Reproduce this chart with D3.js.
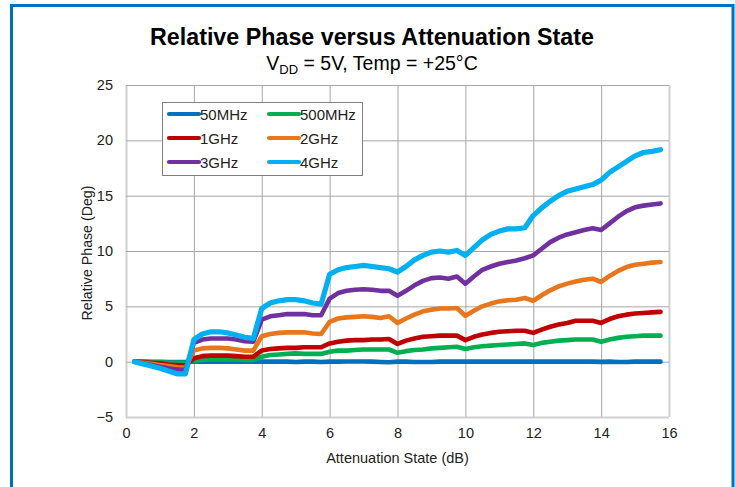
<!DOCTYPE html>
<html><head><meta charset="utf-8">
<script src="https://cdn.jsdelivr.net/npm/d3@7"></script>
<style>body{margin:0;background:#fff;} svg{display:block;font-family:"Liberation Sans",Arial,sans-serif;}</style>
</head><body>
<svg id="c" width="735" height="487"></svg>
<script>
// ---- data ----
const xStates = d3.range(1, 64).map(i => i * 0.25); // 0.25 .. 15.75 dB
const seriesNames = ["50MHz", "500MHz", "1GHz", "2GHz", "3GHz", "4GHz"];
const seriesColors = ["#0070C0", "#00B050", "#C00000", "#E8761C", "#7030A0", "#00B0F0"];
const v50M = [0,0,-0.02,-0.02,-0.03,-0.03,-0.03,0,0,0,0,0,0,0,0,0,0,0,0,-0.03,0,0,-0.03,0,0,0.02,0.02,0.02,0,-0.03,-0.05,0,0,-0.03,-0.03,-0.03,0,0,0,0,0,0,0,0,0,0.02,0,0,0,0,0,0,0,0,0,-0.02,0,-0.03,-0.03,0,0,0,0];
const v500M = [0,0,-0.05,-0.05,-0.1,-0.1,-0.1,0.1,0.15,0.2,0.2,0.2,0.2,0.15,0.15,0.45,0.6,0.65,0.7,0.75,0.7,0.7,0.7,0.9,1.0,1.0,1.05,1.1,1.1,1.1,1.1,0.8,0.95,1.05,1.1,1.2,1.25,1.3,1.35,1.15,1.3,1.4,1.45,1.5,1.55,1.6,1.65,1.5,1.7,1.8,1.9,1.95,2.0,2.0,2.0,1.8,2.0,2.15,2.25,2.3,2.35,2.35,2.35];
const v1G = [0,-0.05,-0.1,-0.15,-0.25,-0.3,-0.35,0.3,0.5,0.55,0.55,0.55,0.5,0.45,0.45,1.0,1.15,1.2,1.25,1.25,1.3,1.3,1.3,1.65,1.8,1.9,1.95,1.95,2.0,2.0,2.05,1.6,1.9,2.1,2.25,2.3,2.35,2.35,2.35,1.95,2.25,2.45,2.6,2.7,2.75,2.8,2.8,2.6,2.9,3.15,3.35,3.5,3.7,3.7,3.7,3.5,3.85,4.1,4.25,4.35,4.4,4.45,4.5];
const v2G = [0,-0.1,-0.2,-0.3,-0.4,-0.5,-0.55,1.0,1.2,1.25,1.25,1.2,1.1,1.0,1.0,2.3,2.5,2.6,2.65,2.65,2.65,2.55,2.5,3.6,3.9,4.0,4.05,4.1,4.05,3.95,4.1,3.5,3.9,4.25,4.55,4.7,4.8,4.8,4.85,4.15,4.6,5.0,5.25,5.45,5.55,5.6,5.75,5.5,6.0,6.45,6.8,7.05,7.25,7.4,7.5,7.2,7.75,8.2,8.55,8.75,8.85,8.95,9.0];
const v3G = [0,-0.15,-0.3,-0.45,-0.6,-0.7,-0.75,1.7,2.0,2.1,2.1,2.1,2.0,1.85,1.8,3.8,4.1,4.2,4.3,4.3,4.3,4.2,4.2,5.7,6.2,6.4,6.5,6.55,6.5,6.4,6.4,5.95,6.4,6.9,7.3,7.55,7.6,7.5,7.7,7.05,7.7,8.3,8.6,8.85,9.0,9.15,9.35,9.6,10.2,10.8,11.2,11.5,11.7,11.9,12.05,11.9,12.5,13.1,13.6,13.95,14.1,14.2,14.3];
const v4G = [0,-0.2,-0.4,-0.6,-0.85,-1.1,-1.1,2.0,2.5,2.7,2.7,2.6,2.4,2.2,2.1,4.8,5.3,5.5,5.6,5.6,5.5,5.3,5.2,7.9,8.3,8.5,8.6,8.7,8.6,8.5,8.4,8.1,8.6,9.2,9.6,9.9,10.0,9.9,10.05,9.6,10.3,11.0,11.5,11.8,12.0,12.0,12.1,13.2,13.9,14.5,15.0,15.4,15.6,15.8,16.0,16.4,17.1,17.6,18.1,18.6,18.9,19.0,19.15];
const seriesValues = [v50M, v500M, v1G, v2G, v3G, v4G];
const xTicks = [0, 2, 4, 6, 8, 10, 12, 14, 16];
const yTicks = [-5, 0, 5, 10, 15, 20, 25];

// ---- layout ----
const svg = d3.select("#c");
const L = 126, R = 669, T = 85, B = 417;
const x = d3.scaleLinear().domain([0, 16]).range([L, R]);
const y = d3.scaleLinear().domain([-5, 25]).range([B, T]);

// outer frame
svg.append("rect").attr("x", 11.5).attr("y", 5.5).attr("width", 721.5).attr("height", 520)
  .attr("fill", "none").attr("stroke", "#0070C0").attr("stroke-width", 3);

// title
svg.append("text").attr("x", 372).attr("y", 45).attr("text-anchor", "middle")
  .attr("font-size", 23).attr("font-weight", "bold").attr("fill", "#000")
  .attr("textLength", 444).attr("lengthAdjust", "spacingAndGlyphs")
  .text("Relative Phase versus Attenuation State");
const sub = svg.append("text").attr("x", 372).attr("y", 70).attr("text-anchor", "middle")
  .attr("font-size", 19.5).attr("fill", "#000");
sub.append("tspan").text("V");
sub.append("tspan").attr("font-size", 13).attr("dy", 4).text("DD");
sub.append("tspan").attr("dy", -4).text(" = 5V, Temp = +25°C");

// grid
const g = svg.append("g");
g.selectAll(".vg").data(xTicks).join("line")
  .attr("x1", d => x(d) + 0.5).attr("x2", d => x(d) + 0.5).attr("y1", T).attr("y2", B)
  .attr("stroke", d => (d === 0 || d === 16) ? "#D0D0D0" : "#A6A6A6")
  .attr("stroke-width", d => (d === 0 || d === 16) ? 2 : 1);
g.selectAll(".hg").data(yTicks).join("line")
  .attr("x1", L).attr("x2", R).attr("y1", d => y(d) + 0.5).attr("y2", d => y(d) + 0.5)
  .attr("stroke", d => d === -5 ? "#D0D0D0" : "#A6A6A6")
  .attr("stroke-width", d => d === -5 ? 2 : 1);

// axes (labels only)
const xAxis = d3.axisBottom(x).tickValues(xTicks).tickSize(0).tickPadding(11);
const xa = svg.append("g").attr("transform", `translate(0,${B})`).call(xAxis);
const yAxis = d3.axisLeft(y).tickValues(yTicks).tickSize(0).tickPadding(13);
const ya = svg.append("g").attr("transform", `translate(${L},0)`).call(yAxis);
[xa, ya].forEach(a => {
  a.select(".domain").remove();
  a.selectAll("text").attr("font-size", 14.5).attr("fill", "#222")
    .attr("font-family", "'Liberation Sans', Arial, sans-serif");
});

svg.append("text").attr("x", (L + R) / 2).attr("y", 463).attr("text-anchor", "middle")
  .attr("font-size", 14.5).attr("fill", "#222").text("Attenuation State (dB)");
svg.append("text").attr("transform", `translate(92,${(T + B) / 2 + 2}) rotate(-90)`)
  .attr("text-anchor", "middle").attr("font-size", 14.2).attr("fill", "#222")
  .text("Relative Phase (Deg)");

// lines
const line = d3.line().x((d, i) => x(xStates[i])).y(d => y(d));
seriesValues.forEach((vals, k) => {
  svg.append("path").datum(vals).attr("d", line).attr("fill", "none")
    .attr("stroke", seriesColors[k]).attr("stroke-width", k === 5 ? 5.2 : 4.6)
    .attr("stroke-linejoin", "round").attr("stroke-linecap", "round");
});

// legend
const lg = svg.append("g");
lg.append("rect").attr("x", 162.5).attr("y", 102.5).attr("width", 200).attr("height", 73)
  .attr("fill", "#fff").attr("stroke", "#7F7F7F").attr("stroke-width", 1);
seriesNames.forEach((n, k) => {
  const col = k % 2, row = Math.floor(k / 2);
  const lx = 169 + col * 100, ly = 114 + row * 24;
  lg.append("line").attr("x1", lx).attr("x2", lx + 30).attr("y1", ly).attr("y2", ly)
    .attr("stroke", seriesColors[k]).attr("stroke-width", 4.2).attr("stroke-linecap", "round");
  lg.append("text").attr("x", lx + 31).attr("y", ly + 5.5).attr("font-size", 15)
    .attr("fill", "#222").text(n);
});
</script>
</body></html>
